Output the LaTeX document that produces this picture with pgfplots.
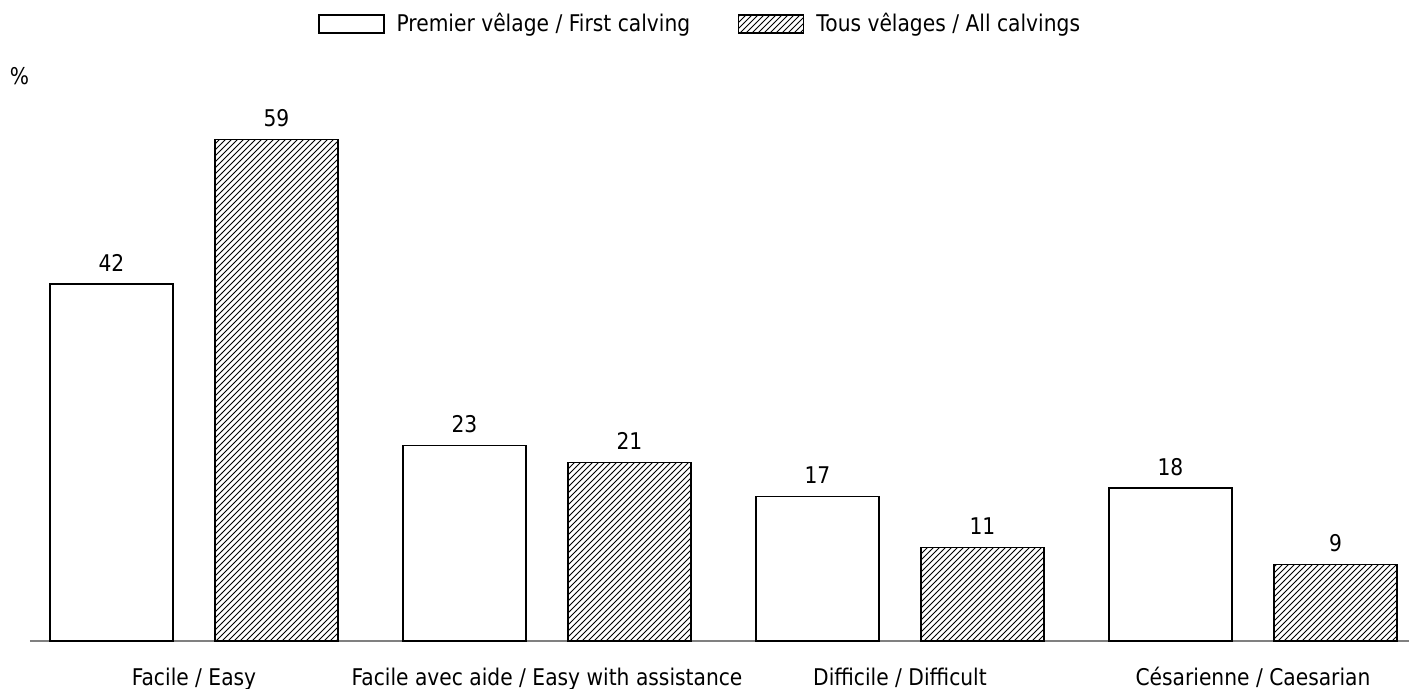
\documentclass[border=0pt]{standalone}
\usepackage{fontspec}
\setmainfont{DejaVu Sans}[FakeStretch=0.88]
\usepackage{pgfplots}
\pgfplotsset{compat=1.18}
\usetikzlibrary{patterns}

\begin{document}
\fontsize{11.5pt}{13pt}\selectfont
\begin{tikzpicture}
    % picture frame: 1 px of the reference = 0.5pt, axis origin at (30px, 641px)
    \path[use as bounding box] (-15pt,-24pt) rectangle (689.5pt,320.5pt);
    \begin{axis}[
        scale only axis,
        width=689.5pt,
        height=297.5pt,
        ymin=0, ymax=70,
        xmin=-0.4646, xmax=3.442,
        ybar=21pt,
        bar width=61.5pt,
        axis x line*=bottom,
        axis y line=none,
        x axis line style={draw=gray, line width=0.6pt, -},
        xtick={0,1,2,3},
        xticklabels={Facile / Easy, Facile avec aide / Easy with assistance,
                     Difficile / Difficult, Césarienne / Caesarian},
        major tick length=0pt,
        xticklabel style={anchor=base, yshift=-22.5pt},
        ytick=\empty,
        clip=false,
        /pgf/number format/assume math mode=true,
        nodes near coords,
        every node near coord/.append style={yshift=2.2pt, black},
        legend columns=2,
        legend image code/.code={
            \draw[#1] (0pt,-4.5pt) rectangle (32.5pt,4.5pt);
        },
        legend style={
            draw=none, fill=none,
            at={(141pt,308.5pt)}, anchor=west,
            /tikz/every odd column/.append style={column sep=4pt},
            /tikz/every even column/.append style={column sep=22pt},
            legend cell align=left,
        },
    ]
        % Premier vêlage / First calving
        \addplot[draw=black, line width=0.6pt, fill=white] coordinates {
            (0,42) (1,23) (2,17) (3,18)
        };
        \addlegendentry{Premier vêlage / First calving}

        % Tous vêlages / All calvings
        \addplot[draw=black, line width=0.6pt, pattern=north east lines] coordinates {
            (0,59) (1,21) (2,11) (3,9)
        };
        \addlegendentry{Tous vêlages / All calvings}
    \end{axis}
    \node at (-5.25pt,282.25pt) {\%};
\end{tikzpicture}
\end{document}
